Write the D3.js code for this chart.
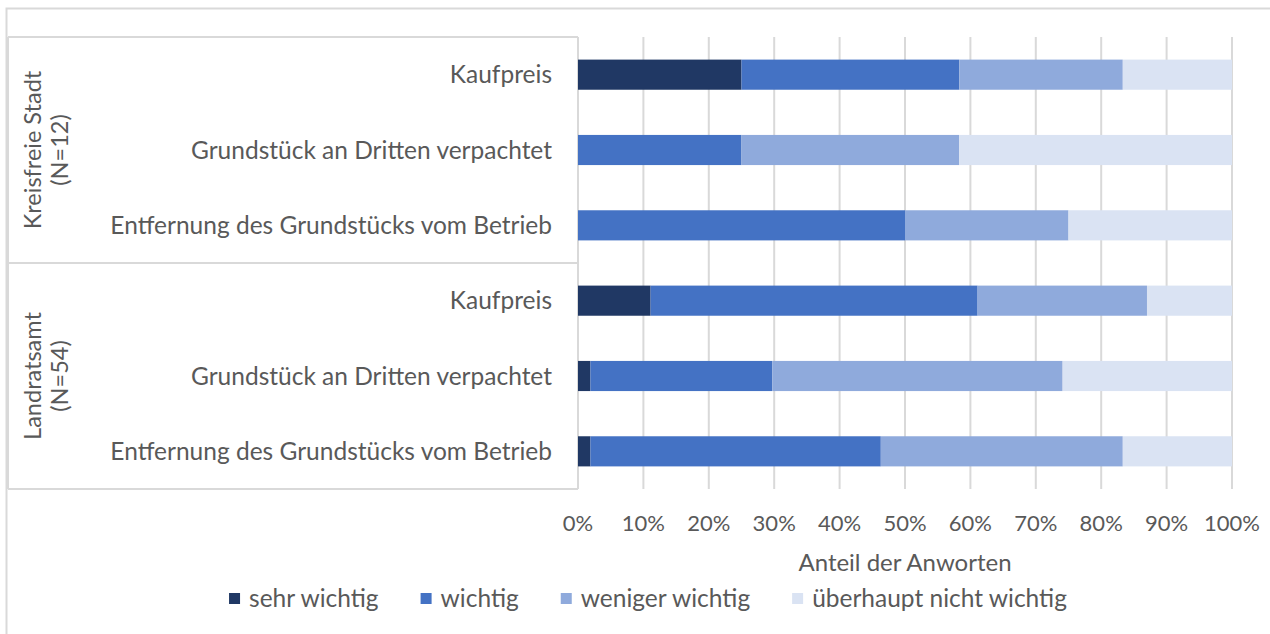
<!DOCTYPE html>
<html>
<head>
<meta charset="utf-8">
<script src="https://cdn.jsdelivr.net/npm/d3@7"></script>
<style>
  html, body { margin: 0; padding: 0; background: #fff; }
  svg text { font-family: Lato, "Open Sans", sans-serif; fill: #595959; }
</style>
</head>
<body>
<div id="chart"></div>
<script>
// data (Anteile in %)
var groups = ["Kreisfreie Stadt", "Landratsamt"];
var groupN = ["(N=12)", "(N=54)"];
var items = ["Kaufpreis", "Grundstück an Dritten verpachtet", "Entfernung des Grundstücks vom Betrieb"];
var seriesNames = ["sehr wichtig", "wichtig", "weniger wichtig", "überhaupt nicht wichtig"];
// rows: Stadt Kaufpreis, Stadt verpachtet, Stadt Entfernung, LRA Kaufpreis, LRA verpachtet, LRA Entfernung
var sehrWichtig = [25.0, 0, 0, 11.1, 1.9, 1.9];
var wichtig = [33.3, 25.0, 50.0, 50.0, 27.8, 44.4];
var wenigerWichtig = [25.0, 33.3, 25.0, 25.9, 44.4, 37.0];
var ueberhauptNicht = [16.7, 41.7, 25.0, 13.0, 25.9, 16.7];
var xTicks = [0, 10, 20, 30, 40, 50, 60, 70, 80, 90, 100];

var colors = ["#203864", "#4472C4", "#8FAADC", "#DAE3F3"];
var gridColor = "#d9d9d9";

var W = 1270, H = 634;
var margin = {left: 578, right: 38, top: 37, bottom: 145};

// build rows
var rows = [];
groups.forEach(function (g, gi) {
  items.forEach(function (it, ii) {
    var k = gi * items.length + ii;
    rows.push({
      id: k, group: g, item: it,
      s0: sehrWichtig[k], s1: wichtig[k], s2: wenigerWichtig[k], s3: ueberhauptNicht[k]
    });
  });
});

var svg = d3.select("#chart").append("svg")
  .attr("width", W)
  .attr("height", H);

// outer chart border
svg.append("rect")
  .attr("x", 6.5).attr("y", 8.5)
  .attr("width", W + 10).attr("height", H + 10)
  .attr("fill", "none")
  .attr("stroke", gridColor)
  .attr("stroke-width", 2);

var x = d3.scaleLinear().domain([0, 100]).range([margin.left, W - margin.right]);
var y = d3.scaleBand()
  .domain(rows.map(function (d) { return d.id; }))
  .range([margin.top, H - margin.bottom])
  .paddingInner(0.6)
  .paddingOuter(0.3);

var plotTop = margin.top, plotBottom = H - margin.bottom;

// gridlines
svg.append("g")
  .selectAll("line")
  .data(xTicks)
  .enter()
  .append("line")
    .attr("x1", function (d) { return x(d); })
    .attr("x2", function (d) { return x(d); })
    .attr("y1", plotTop)
    .attr("y2", plotBottom)
    .attr("stroke", gridColor)
    .attr("stroke-width", 2);

// category boxes (group frame)
var boxLeft = 8;
var groupBounds = groups.map(function (g, gi) {
  var first = gi * items.length, last = first + items.length - 1;
  var top = gi === 0 ? plotTop : (y(first) + y(first - 1) + y.bandwidth()) / 2;
  var bottom = gi === groups.length - 1 ? plotBottom : (y(last) + y.bandwidth() + y(last + 1)) / 2;
  return {top: top, bottom: bottom};
});
var frame = svg.append("g").attr("stroke", gridColor).attr("stroke-width", 2).attr("fill", "none");
frame.append("line").attr("x1", boxLeft).attr("x2", x(0)).attr("y1", plotTop).attr("y2", plotTop);
frame.append("line").attr("x1", boxLeft).attr("x2", x(0)).attr("y1", plotBottom).attr("y2", plotBottom);
frame.append("line").attr("x1", boxLeft).attr("x2", boxLeft).attr("y1", plotTop).attr("y2", plotBottom);
groupBounds.slice(1).forEach(function (b) {
  frame.append("line").attr("x1", boxLeft).attr("x2", x(0)).attr("y1", b.top).attr("y2", b.top);
});

// stacked bars
var stack = d3.stack().keys(["s0", "s1", "s2", "s3"]);
var series = stack(rows);
svg.append("g")
  .selectAll("g")
  .data(series)
  .enter()
  .append("g")
    .attr("fill", function (d, i) { return colors[i]; })
  .selectAll("rect")
  .data(function (d) { return d; })
  .enter()
  .append("rect")
    .attr("x", function (d) { return x(d[0]); })
    .attr("width", function (d) { return Math.max(0, x(d[1]) - x(d[0])); })
    .attr("y", function (d) { return y(d.data.id); })
    .attr("height", y.bandwidth());

// row labels
svg.append("g")
  .selectAll("text")
  .data(rows)
  .enter()
  .append("text")
    .attr("x", 552)
    .attr("y", function (d) { return y(d.id) + y.bandwidth() / 2; })
    .attr("dy", "0.35em")
    .attr("text-anchor", "end")
    .style("font-size", "24.5px")
    .text(function (d) { return d.item; });

// group labels (rotated, two lines)
groupBounds.forEach(function (b, gi) {
  var cy = (b.top + b.bottom) / 2;
  var t = svg.append("text")
    .attr("transform", "translate(33," + cy + ") rotate(-90)")
    .attr("text-anchor", "middle")
    .style("font-size", "23.5px");
  t.append("tspan").attr("x", 0).attr("dy", "0.35em").text(groups[gi]);
  t.append("tspan").attr("x", 0).attr("dy", "1.15em").text(groupN[gi]);
});

// x tick labels
svg.append("g")
  .selectAll("text")
  .data(xTicks)
  .enter()
  .append("text")
    .attr("x", function (d) { return x(d); })
    .attr("y", 531)
    .attr("text-anchor", "middle")
    .style("font-size", "22px")
    .text(function (d) { return d + "%"; });

// axis title
svg.append("text")
  .attr("x", x(50))
  .attr("y", 571)
  .attr("text-anchor", "middle")
  .style("font-size", "24px")
  .text("Anteil der Anworten");

// legend
var legend = svg.append("g");
var lx = 0, legY = 598, gap = 42;
seriesNames.forEach(function (name, i) {
  var g = legend.append("g").attr("transform", "translate(" + lx + ",0)");
  g.append("rect")
    .attr("x", 0).attr("y", legY - 5)
    .attr("width", 11).attr("height", 11)
    .attr("fill", colors[i]);
  var t = g.append("text")
    .attr("x", 20).attr("y", legY)
    .attr("dy", "0.35em")
    .style("font-size", "24.5px")
    .text(name);
  lx += 20 + t.node().getComputedTextLength() + gap;
});
var legW = lx - gap;
legend.attr("transform", "translate(" + (648 - legW / 2) + ",0)");
</script>
</body>
</html>
